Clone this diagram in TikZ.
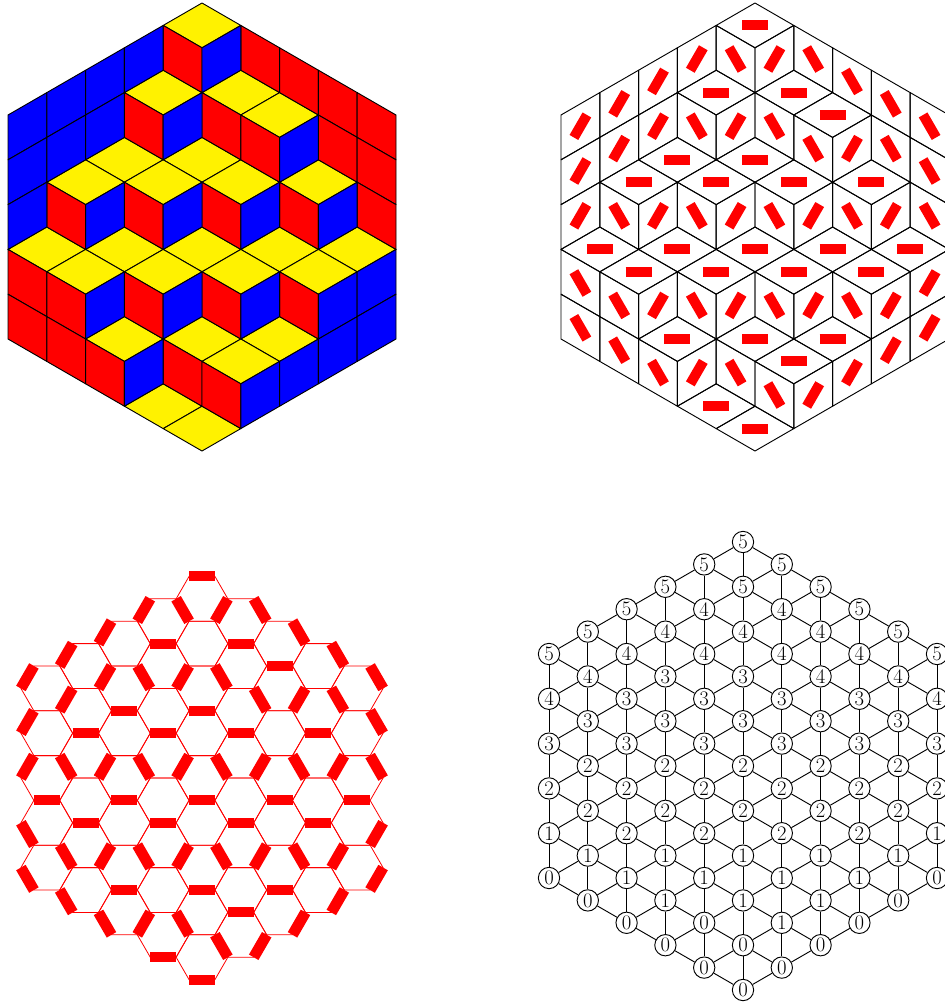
\documentclass[tikz,border=0pt]{standalone}
\usepackage{xcolor}
\definecolor{lozyellow}{HTML}{FFF200}
\definecolor{lozred}{HTML}{FF0000}
\definecolor{lozblue}{HTML}{0000FF}
\newcommand{\dx}{38.8}
\newcommand{\hy}{22.4}
\newcommand{\yellowlist}{0/1,-1/4,1/4,2/5,-2/7,0/7,-3/8,-1/8,1/8,3/8,-4/11,-2/11,0/11,2/11,4/11,-3/12,-1/12,1/12,3/12,-2/15,0/15,2/15,1/16,-1/18,0/19}
\newcommand{\redlist}{-5/11,-5/13,-4/8,-4/12,-4/14,-3/15,-2/4,-2/8,-2/12,-1/1,-1/15,0/4,0/8,0/12,0/16,1/1,1/5,2/2,2/8,2/12,3/3,3/5,4/4,4/6,4/8}
\newcommand{\bluelist}{-5/5,-5/7,-5/9,-4/4,-4/6,-3/3,-3/5,-3/9,-3/13,-2/2,-2/16,-1/5,-1/9,-1/13,0/2,1/9,1/13,1/17,2/6,2/16,3/9,3/13,3/15,4/12,4/14}
\begin{document}
\begin{tikzpicture}[
  x=0.75pt, y=-0.75pt,
  tile/.style={draw=black, line width=0.7pt, line join=round},
  dimer/.style={draw=lozred, line width=7.5pt},
  slantdimer/.style={draw=lozred, line width=8.2pt},
  honey/.style={draw=lozred, line width=0.6pt},
  height/.style={draw, circle, fill=white, line width=0.7pt, minimum size=16pt, inner sep=0pt, font=\fontsize{15.5}{17}\selectfont},
  link/.style={draw=black, line width=0.7pt}
]
\useasboundingbox (0,0) rectangle (945,1004);

% coloured tiling
\begin{scope}[shift={(202,3)}]
\foreach \col/\row in \yellowlist
  \draw[tile, fill=lozyellow] (\col*\dx,\row*\hy-\hy) -- ++(\dx,\hy) -- ++(-\dx,\hy) -- ++(-\dx,-\hy) -- cycle;
\foreach \col/\row in \redlist
  \draw[tile, fill=lozred] (\col*\dx,\row*\hy) -- ++(\dx,\hy) -- ++(0,2*\hy) -- ++(-\dx,-\hy) -- cycle;
\foreach \col/\row in \bluelist
  \draw[tile, fill=lozblue] (\col*\dx,\row*\hy) -- ++(\dx,-\hy) -- ++(0,2*\hy) -- ++(-\dx,\hy) -- cycle;
\end{scope}

% same tiling, white, with a bar in each tile
\begin{scope}[shift={(755,3)}]
\foreach \col/\row in \yellowlist {
  \draw[tile] (\col*\dx,\row*\hy-\hy) -- ++(\dx,\hy) -- ++(-\dx,\hy) -- ++(-\dx,-\hy) -- cycle;
  \draw[dimer] (\col*\dx-13,\row*\hy) -- (\col*\dx+13,\row*\hy);
}
\foreach \col/\row in \redlist {
  \draw[tile] (\col*\dx,\row*\hy) -- ++(\dx,\hy) -- ++(0,2*\hy) -- ++(-\dx,-\hy) -- cycle;
  \draw[dimer] (\col*\dx+0.5*\dx,\row*\hy+1.5*\hy) ++(60:13) -- ++(240:26);
}
\foreach \col/\row in \bluelist {
  \draw[tile] (\col*\dx,\row*\hy) -- ++(\dx,-\hy) -- ++(0,2*\hy) -- ++(-\dx,\hy) -- cycle;
  \draw[dimer] (\col*\dx+0.5*\dx,\row*\hy+0.5*\hy) ++(-60:13) -- ++(120:26);
}
\end{scope}

% honeycomb with the matching
\begin{scope}[shift={(202,554)}]
\foreach \col in {-4,...,4} {
  \pgfmathtruncatemacro\rowmin{abs(\col)+2}
  \pgfmathtruncatemacro\rownext{\rowmin+2}
  \pgfmathtruncatemacro\rowmax{18-abs(\col)}
  \foreach \row in {\rowmin,\rownext,...,\rowmax}
    \draw[honey] (\col*\dx,\row*\hy) +(0:25.87) -- +(60:25.87) -- +(120:25.87) -- +(180:25.87) -- +(240:25.87) -- +(300:25.87) -- cycle;
}
\foreach \col/\row in \yellowlist
  \draw[dimer] (\col*\dx-13,\row*\hy) -- (\col*\dx+13,\row*\hy);
\foreach \col/\row in \redlist
  \draw[slantdimer] (\col*\dx+0.5*\dx,\row*\hy+1.5*\hy) ++(60:13) -- ++(240:26);
\foreach \col/\row in \bluelist
  \draw[slantdimer] (\col*\dx+0.5*\dx,\row*\hy+0.5*\hy) ++(-60:13) -- ++(120:26);
\end{scope}

% heights on the lattice
\begin{scope}[shift={(743,542)}]
\foreach \col/\vals in {-5/{5,4,3,2,1,0}, -4/{5,4,3,2,2,1,0}, -3/{5,4,3,3,2,2,1,0}, -2/{5,4,3,3,2,2,1,1,0},
    -1/{5,4,4,3,3,2,2,1,0,0}, 0/{5,5,4,3,3,2,2,1,1,0,0}, 1/{5,4,4,3,3,2,2,1,1,0}, 2/{5,4,4,3,2,2,1,1,0},
    3/{5,4,3,3,2,2,1,0}, 4/{5,4,3,2,2,1,0}, 5/{5,4,3,2,1,0}} {
  \foreach \val [count=\i from 0] in \vals {
    \pgfmathtruncatemacro\row{abs(\col)+2*\i}
    \node[height] (h\col-\row) at (\col*\dx,\row*\hy) {\val};
  }
}
\foreach \col in {-5,...,5} {
  \pgfmathtruncatemacro\rowmin{abs(\col)}
  \pgfmathtruncatemacro\rownext{\rowmin+2}
  \pgfmathtruncatemacro\rowmax{20-abs(\col)}
  \pgfmathtruncatemacro\colnext{\col+1}
  \pgfmathtruncatemacro\nextmin{abs(\colnext)}
  \pgfmathtruncatemacro\nextmax{20-abs(\colnext)}
  \foreach \row in {\rowmin,\rownext,...,\rowmax} {
    \pgfmathtruncatemacro\rowdown{\row+2}
    \pgfmathtruncatemacro\rowse{\row+1}
    \pgfmathtruncatemacro\rowne{\row-1}
    \ifnum\row<\rowmax \draw[link] (h\col-\row) -- (h\col-\rowdown); \fi
    \ifnum\col<5
      \ifnum\rowse>\nextmax\else \draw[link] (h\col-\row) -- (h\colnext-\rowse); \fi
      \ifnum\rowne<\nextmin\else \draw[link] (h\col-\row) -- (h\colnext-\rowne); \fi
    \fi
  }
}
\end{scope}
\end{tikzpicture}
\end{document}
